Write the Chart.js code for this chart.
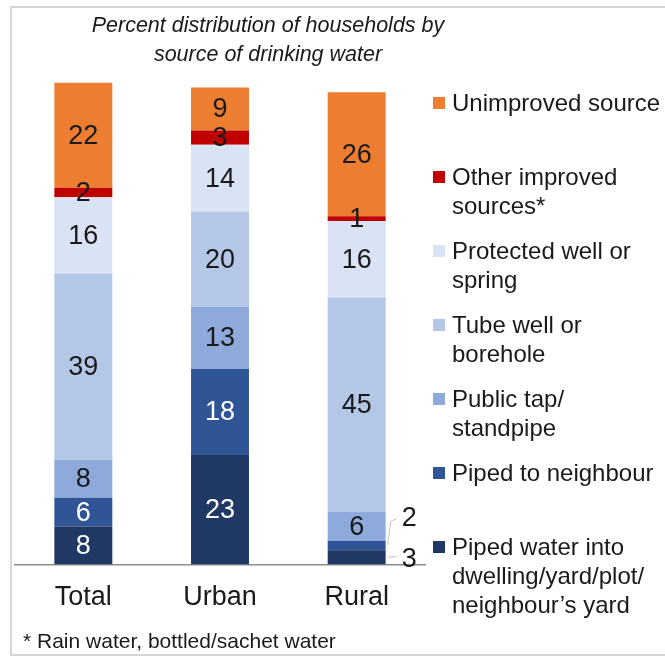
<!DOCTYPE html>
<html lang="en">
<head>
<meta charset="UTF-8">
<title>Source of drinking water</title>
<script src="https://cdn.jsdelivr.net/npm/chart.js"></script>
<style>
  body { margin: 0; font-family: "Liberation Sans", Arial, sans-serif; color: #1a1a1a; }
  #wrap { position: relative; width: 665px; height: 657px; overflow: hidden; background: #fff; }
  #frame { position: absolute; left: 10px; top: 6px; width: 700px; height: 650px; border: 2px solid #d6d6d6; border-right: none; box-sizing: border-box; }
  canvas { position: absolute; left: 0; top: 0; }
  #title { position: absolute; left: 0; top: 11px; width: 536px; text-align: center; font-style: italic; font-size: 21.5px; line-height: 29px; }
  #legend { position: absolute; left: 433px; top: 88px; list-style: none; margin: 0; padding: 0; }
  #legend li { height: 74px; font-size: 24px; line-height: 29px; padding-left: 19px; position: relative; white-space: pre-line; }
  #legend li span { position: absolute; left: 0; top: 9px; width: 12px; height: 12px; }
  #note { position: absolute; left: 23px; top: 629px; font-size: 21px; line-height: 24px; }
</style>
</head>
<body>
<div id="wrap">
  <div id="frame"></div>
  <canvas id="waterChart" width="665" height="657"></canvas>
  <div id="title">Percent distribution of households by<br>source of drinking water</div>
  <ul id="legend"></ul>
  <div id="note">* Rain water, bottled/sachet water</div>
</div>
<script>
  const categories = ['Total', 'Urban', 'Rural'];

  // bottom to top
  const seriesNames = [
    'Piped water into\ndwelling/yard/plot/\nneighbour\u2019s yard',
    'Piped to neighbour',
    'Public tap/\nstandpipe',
    'Tube well or\nborehole',
    'Protected well or\nspring',
    'Other improved\nsources*',
    'Unimproved source'
  ];
  const pipedDwelling = [8, 23, 3];
  const pipedNeighbour = [6, 18, 2];
  const publicTap = [8, 13, 6];
  const tubeWell = [39, 20, 45];
  const protectedWell = [16, 14, 16];
  const otherImproved = [2, 3, 1];
  const unimproved = [22, 9, 26];

  const seriesValues = [pipedDwelling, pipedNeighbour, publicTap, tubeWell, protectedWell, otherImproved, unimproved];
  const colors = ['#203864', '#2f5597', '#8eaadb', '#b4c7e7', '#dae3f3', '#c00000', '#ed7d31'];
  const fontFamily = '"Liberation Sans", Arial, sans-serif';

  // numbers inside the segments, small dark ones get a callout on the right
  const valueLabels = {
    id: 'valueLabels',
    afterDatasetsDraw(chart) {
      const ctx = chart.ctx;
      ctx.save();
      ctx.font = '27px ' + fontFamily;
      ctx.textBaseline = 'middle';
      chart.data.datasets.forEach((ds, i) => {
        chart.getDatasetMeta(i).data.forEach((bar, j) => {
          const v = ds.data[j];
          const mid = (bar.y + bar.base) / 2;
          const dark = i < 2;
          if (dark && bar.base - bar.y < 16) {
            const x0 = bar.x + bar.width / 2 + 2;
            const ty = i === 1 ? mid - 27 : mid + 2;
            ctx.strokeStyle = '#c4c4c4';
            ctx.lineWidth = 1;
            ctx.beginPath();
            ctx.moveTo(x0, mid);
            if (i === 1) {
              ctx.lineTo(x0 + 3, ty + 3);
              ctx.lineTo(x0 + 9, ty);
            } else {
              ctx.lineTo(x0 + 9, mid - 1);
            }
            ctx.stroke();
            ctx.fillStyle = '#1a1a1a';
            ctx.textAlign = 'left';
            ctx.fillText(String(v), x0 + 14, ty);
          } else {
            ctx.fillStyle = dark ? '#ffffff' : '#1a1a1a';
            ctx.textAlign = 'center';
            ctx.fillText(String(v), bar.x, mid + 1);
          }
        });
      });
      ctx.restore();
    }
  };

  const datasets = seriesValues.map((vals, i) => ({
    label: seriesNames[i],
    data: vals,
    backgroundColor: colors[i],
    borderWidth: 0,
    barPercentage: 0.424,
    categoryPercentage: 1
  }));

  new Chart(document.getElementById('waterChart'), {
    type: 'bar',
    data: { labels: categories, datasets: datasets },
    options: {
      responsive: false,
      animation: false,
      layout: { padding: { top: 78, left: 15, right: 240, bottom: 26 } },
      plugins: { legend: { display: false }, title: { display: false }, tooltip: { enabled: false } },
      scales: {
        x: {
          stacked: true,
          grid: { display: false, drawTicks: false },
          border: { display: true, color: '#8c8c8c', width: 1.5 },
          ticks: { color: '#1a1a1a', padding: 17, font: { size: 27, family: fontFamily } }
        },
        y: { stacked: true, display: false, min: 0, max: 102 }
      }
    },
    plugins: [valueLabels]
  });

  // legend, top to bottom = reverse of stacking order
  const legend = document.getElementById('legend');
  for (let i = seriesNames.length - 1; i >= 0; i--) {
    const li = document.createElement('li');
    const box = document.createElement('span');
    box.style.background = colors[i];
    li.appendChild(box);
    li.appendChild(document.createTextNode(seriesNames[i]));
    legend.appendChild(li);
  }
</script>
</body>
</html>
